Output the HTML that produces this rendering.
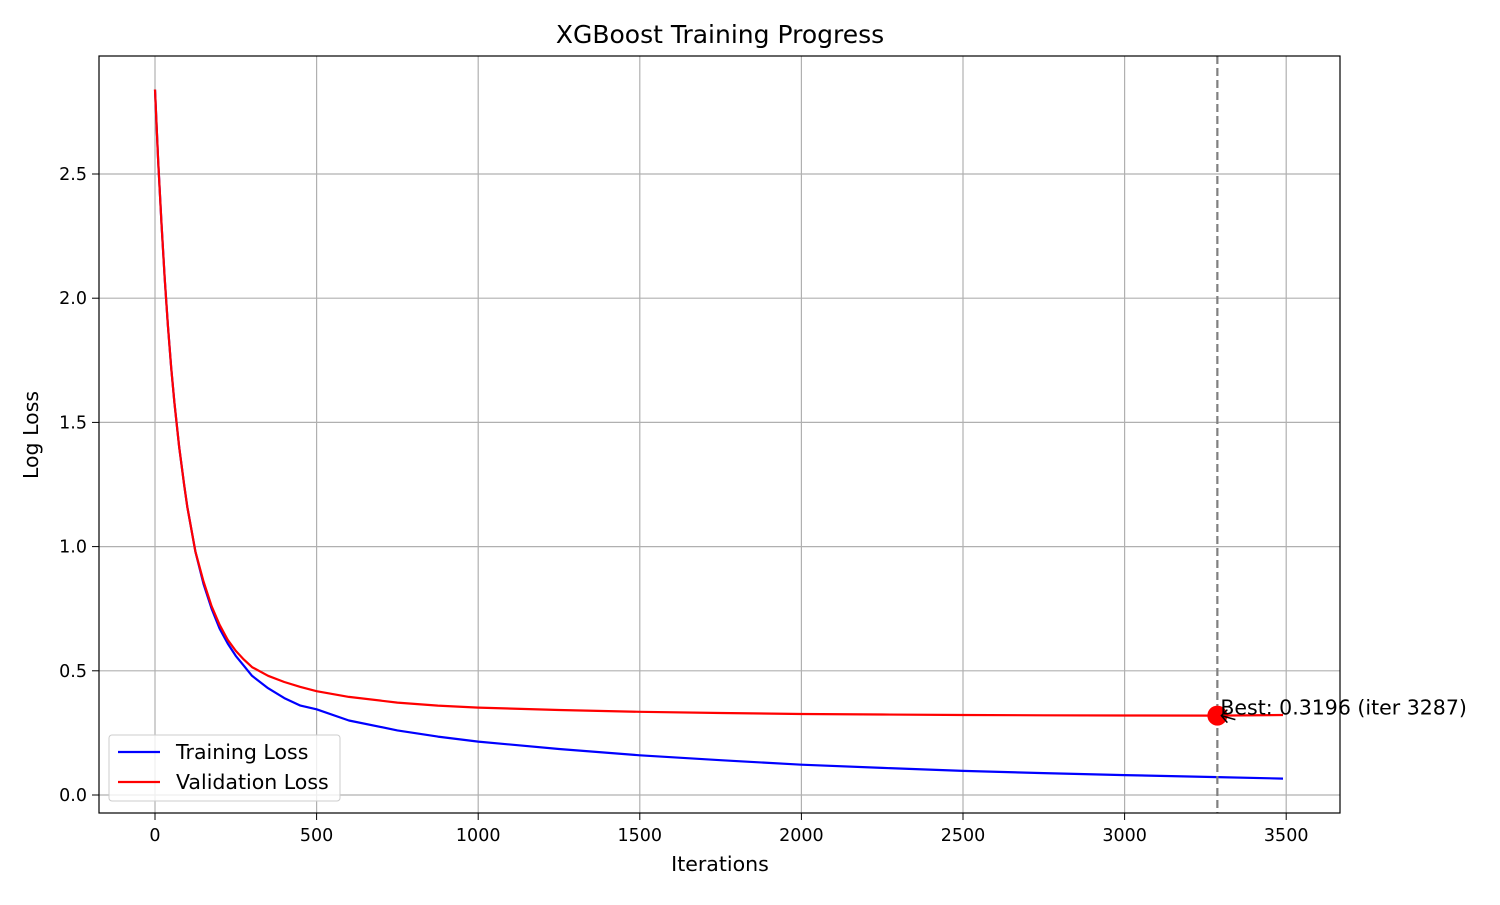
<!DOCTYPE html>
<html><head><meta charset="utf-8"><style>
body{margin:0;background:#fff;font-family:"Liberation Sans","DejaVu Sans",sans-serif}
svg text{font-family:"DejaVu Sans","Liberation Sans",sans-serif;fill:#000}
</style></head><body>
<svg id="chart" width="1500" height="900" xmlns="http://www.w3.org/2000/svg">
<rect width="1500" height="900" fill="#fff"/>
<g id="grid"></g>
<g id="axes"></g>
<g id="series"></g>
<rect x="99" y="56" width="1241" height="757" fill="none" stroke="#000" stroke-width="1.2"/>
<text x="720" y="43" font-size="25" text-anchor="middle">XGBoost Training Progress</text>
<text x="720" y="871" font-size="20.5" text-anchor="middle">Iterations</text>
<text x="38" y="435" font-size="20.5" text-anchor="middle" transform="rotate(-90 38 435)">Log Loss</text>
<g>
<rect x="109" y="735" width="231" height="66" rx="3" fill="#fff" fill-opacity="0.8" stroke="#ccc"/>
<line x1="118" y1="752" x2="160" y2="752" stroke="#0000ff" stroke-width="2.2"/>
<text x="176" y="759" font-size="20.5">Training Loss</text>
<line x1="118" y1="782" x2="160" y2="782" stroke="#ff0000" stroke-width="2.2"/>
<text x="176" y="789" font-size="20.5">Validation Loss</text>
</g>
</svg>
<script>
const iters=[0,10,20,30,40,50,60,75,90,100,125,150,175,200,225,250,275,300,350,400,450,500,600,750,875,1000,1250,1500,1750,2000,2250,2500,2750,3000,3287,3490];
const trainLoss=[2.84,2.55,2.3,2.08,1.89,1.72,1.58,1.4,1.25,1.16,0.98,0.85,0.75,0.67,0.61,0.56,0.52,0.48,0.43,0.39,0.36,0.345,0.30,0.26,0.235,0.215,0.185,0.16,0.14,0.122,0.109,0.097,0.088,0.08,0.072,0.066];
const valLoss=[2.84,2.55,2.3,2.08,1.89,1.72,1.58,1.4,1.25,1.16,0.98,0.86,0.76,0.685,0.625,0.58,0.545,0.515,0.48,0.455,0.435,0.418,0.395,0.372,0.36,0.352,0.342,0.335,0.33,0.326,0.324,0.322,0.321,0.32,0.3196,0.322];
const xTicks=[0,500,1000,1500,2000,2500,3000,3500];
const yTicks=[0.0,0.5,1.0,1.5,2.0,2.5];
const bestIter=3287, bestVal=0.3196;
const ns="http://www.w3.org/2000/svg";
const X=v=>155+v*0.3232, Y=v=>795-v*248.4;
function mk(t,a,p){const e=document.createElementNS(ns,t);for(const k in a)e.setAttribute(k,a[k]);p.appendChild(e);return e;}
const grid=document.getElementById('grid'),axes=document.getElementById('axes'),ser=document.getElementById('series');
xTicks.forEach(v=>{
 const g=mk('line',{x1:X(v),x2:X(v),y1:56,y2:813,stroke:'#b0b0b0','stroke-width':1.2},grid);
 
 
 const t=mk('line',{x1:X(v),x2:X(v),y1:813,y2:820,stroke:'#000'},axes);
 
 
 const l=mk('text',{x:X(v),y:841,'font-size':17.5,'text-anchor':'middle'},axes);l.textContent=v;
 
 
});
yTicks.forEach(v=>{
 const g=mk('line',{x1:99,x2:1340,y1:Y(v),y2:Y(v),stroke:'#b0b0b0','stroke-width':1.2},grid);
 
 
 const t=mk('line',{x1:92,x2:99,y1:Y(v),y2:Y(v),stroke:'#000'},axes);
 
 
 const l=mk('text',{x:87,y:Y(v)+6,'font-size':17.5,'text-anchor':'end'},axes);l.textContent=v.toFixed(1);
 
 
});
function line(vals,col,name){
 const d=iters.map((x,i)=>(i?'L':'M')+X(x).toFixed(1)+','+Y(vals[i]).toFixed(1)).join('');
 const p=mk('path',{d:d,fill:'none',stroke:col,'stroke-width':2.2,'stroke-linejoin':'round'},ser);
 
 
}
line(trainLoss,'#0000ff','training-loss-line');
line(valLoss,'#ff0000','validation-loss-line');
const dl=mk('line',{x1:X(bestIter),x2:X(bestIter),y1:56,y2:813,stroke:'#808080','stroke-width':2.2,'stroke-dasharray':'8,4'},ser);


const dot=mk('circle',{cx:X(bestIter),cy:Y(bestVal),r:10,fill:'#ff0000'},ser);


const ar=mk('path',{d:`M${X(bestIter)+18},${Y(bestVal)+4} L${X(bestIter)+4},${Y(bestVal)} M${X(bestIter)+10},${Y(bestVal)-6} L${X(bestIter)+4},${Y(bestVal)} L${X(bestIter)+10},${Y(bestVal)+7}`,fill:'none',stroke:'#000','stroke-width':1.5},ser);


const at=mk('text',{x:X(bestIter)+3,y:Y(bestVal)-1,'font-size':20.5},ser);
at.textContent='Best: '+bestVal.toFixed(4)+' (iter '+bestIter+')';


</script>
</body></html>
